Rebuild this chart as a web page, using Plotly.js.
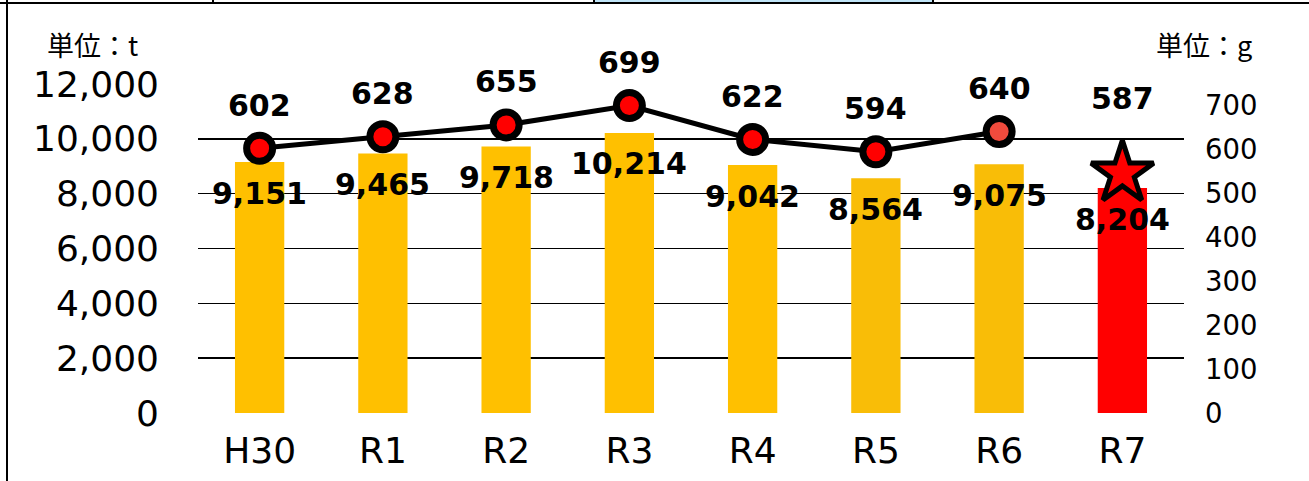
<!DOCTYPE html>
<html><head><meta charset="utf-8">
<script src="https://cdn.plot.ly/plotly-3.0.1.min.js"></script>
<style>
html,body{margin:0;padding:0;background:#fff;}
#wrap{position:relative;width:1309px;height:481px;overflow:hidden;}
#chart{position:absolute;left:0;top:0;width:1309px;height:481px;}
.ln{position:absolute;background:#000;}
</style></head><body>
<div id="wrap">
<div id="chart"></div>
<div style="position:absolute;left:595px;top:0;width:337px;height:2px;background:#BFE4F7"></div>
<div class="ln" style="left:0;top:2px;width:1309px;height:2px"></div>
<div class="ln" style="left:6px;top:0;width:2px;height:481px"></div>
<div class="ln" style="left:212px;top:0;width:2px;height:3px"></div>
<div class="ln" style="left:593px;top:0;width:2px;height:3px"></div>
<div class="ln" style="left:932px;top:0;width:2px;height:3px"></div>
</div>
<script>
const categories = ['H30','R1','R2','R3','R4','R5','R6','R7'];
const barValues = [9151, 9465, 9718, 10214, 9042, 8564, 9075, 8204];
const lineValues = [602, 628, 655, 699, 622, 594, 640, 587];
const starValues = [null, null, null, null, null, null, null, 545];
const leftTicks = [0, 2000, 4000, 6000, 8000, 10000, 12000];
const rightTicks = [0, 100, 200, 300, 400, 500, 600, 700];
const unitLeft = '単位：t';
const unitRight = '単位：g';

const barColors = ['#FFC000','#FFC000','#FFC000','#FFC000','#FFC000','#F9BD07','#F9BD07','#FF0000'];
const dotColors = ['#FF0000','#FF0000','#FF0000','#FF0000','#FF0000','#FF0000','#F04B3D'];
const lineCount = 7;

const labelFont = {family:'DejaVu Sans', size:30, color:'#000', weight:700};

const traces = [
  {type:'bar', x:categories, y:barValues, width:0.4,
   marker:{color:barColors, line:{width:0}}, hoverinfo:'skip'},
  {type:'scatter', mode:'lines+markers', x:categories.slice(0,lineCount), y:lineValues.slice(0,lineCount), yaxis:'y2',
   line:{color:'#000', width:5},
   marker:{size:26, color:dotColors, line:{color:'#000', width:7}}, hoverinfo:'skip'},
  {type:'scatter', mode:'markers', x:categories, y:starValues, yaxis:'y2',
   marker:{symbol:'star', size:47, color:'#FF0000', line:{color:'#000', width:5}}, hoverinfo:'skip'}
];

const annotations = [];
categories.forEach((c,i)=>{
  annotations.push({x:c, y:barValues[i], xref:'x', yref:'y', text:barValues[i].toLocaleString('en-US'),
    showarrow:false, yanchor:'middle', xanchor:'center', yshift:-31, font:labelFont});
  annotations.push({x:c, y:lineValues[i], xref:'x', yref:'y2', text:String(lineValues[i]),
    showarrow:false, yanchor:'middle', xanchor:'center', yshift:(i < lineCount ? 43 : 56), font:labelFont});
});
annotations.push({xref:'paper', yref:'paper', x:-0.1075, y:1.12, text:unitLeft, showarrow:false,
  xanchor:'center', yanchor:'middle', font:{family:'Noto Sans CJK JP', size:27, color:'#000'}});
annotations.push({xref:'paper', yref:'paper', x:1.0203, y:1.12, text:unitRight, showarrow:false,
  xanchor:'center', yanchor:'middle', font:{family:'Noto Sans CJK JP', size:27, color:'#000'}});

const layout = {
  width:1309, height:481,
  margin:{l:198, r:125, t:84, b:68, pad:0},
  paper_bgcolor:'#fff', plot_bgcolor:'#fff',
  showlegend:false,
  font:{family:'DejaVu Sans', color:'#000'},
  xaxis:{type:'category', categoryarray:categories, range:[-0.5, categories.length-0.5], autorange:false,
    showgrid:false, zeroline:false, showline:false, ticks:'',
    tickfont:{family:'DejaVu Sans', size:36, color:'#000'}, ticklabelstandoff:13, fixedrange:true},
  yaxis:{range:[0,12000], tickvals:leftTicks, tickformat:',d', showgrid:true, gridcolor:'#000', gridwidth:1.5,
    zeroline:false, showline:false, ticks:'', tickfont:{family:'DejaVu Sans', size:36, color:'#000'},
    ticklabelstandoff:38, fixedrange:true},
  yaxis2:{overlaying:'y', side:'right', range:[0,748], tickvals:rightTicks, showgrid:false, zeroline:false,
    showline:false, ticks:'', tickfont:{family:'DejaVu Sans', size:27.5, color:'#000'}, ticklabelstandoff:20, fixedrange:true},
  annotations:annotations
};

Plotly.newPlot('chart', traces, layout, {displayModeBar:false, staticPlot:true});
</script>
</body></html>
